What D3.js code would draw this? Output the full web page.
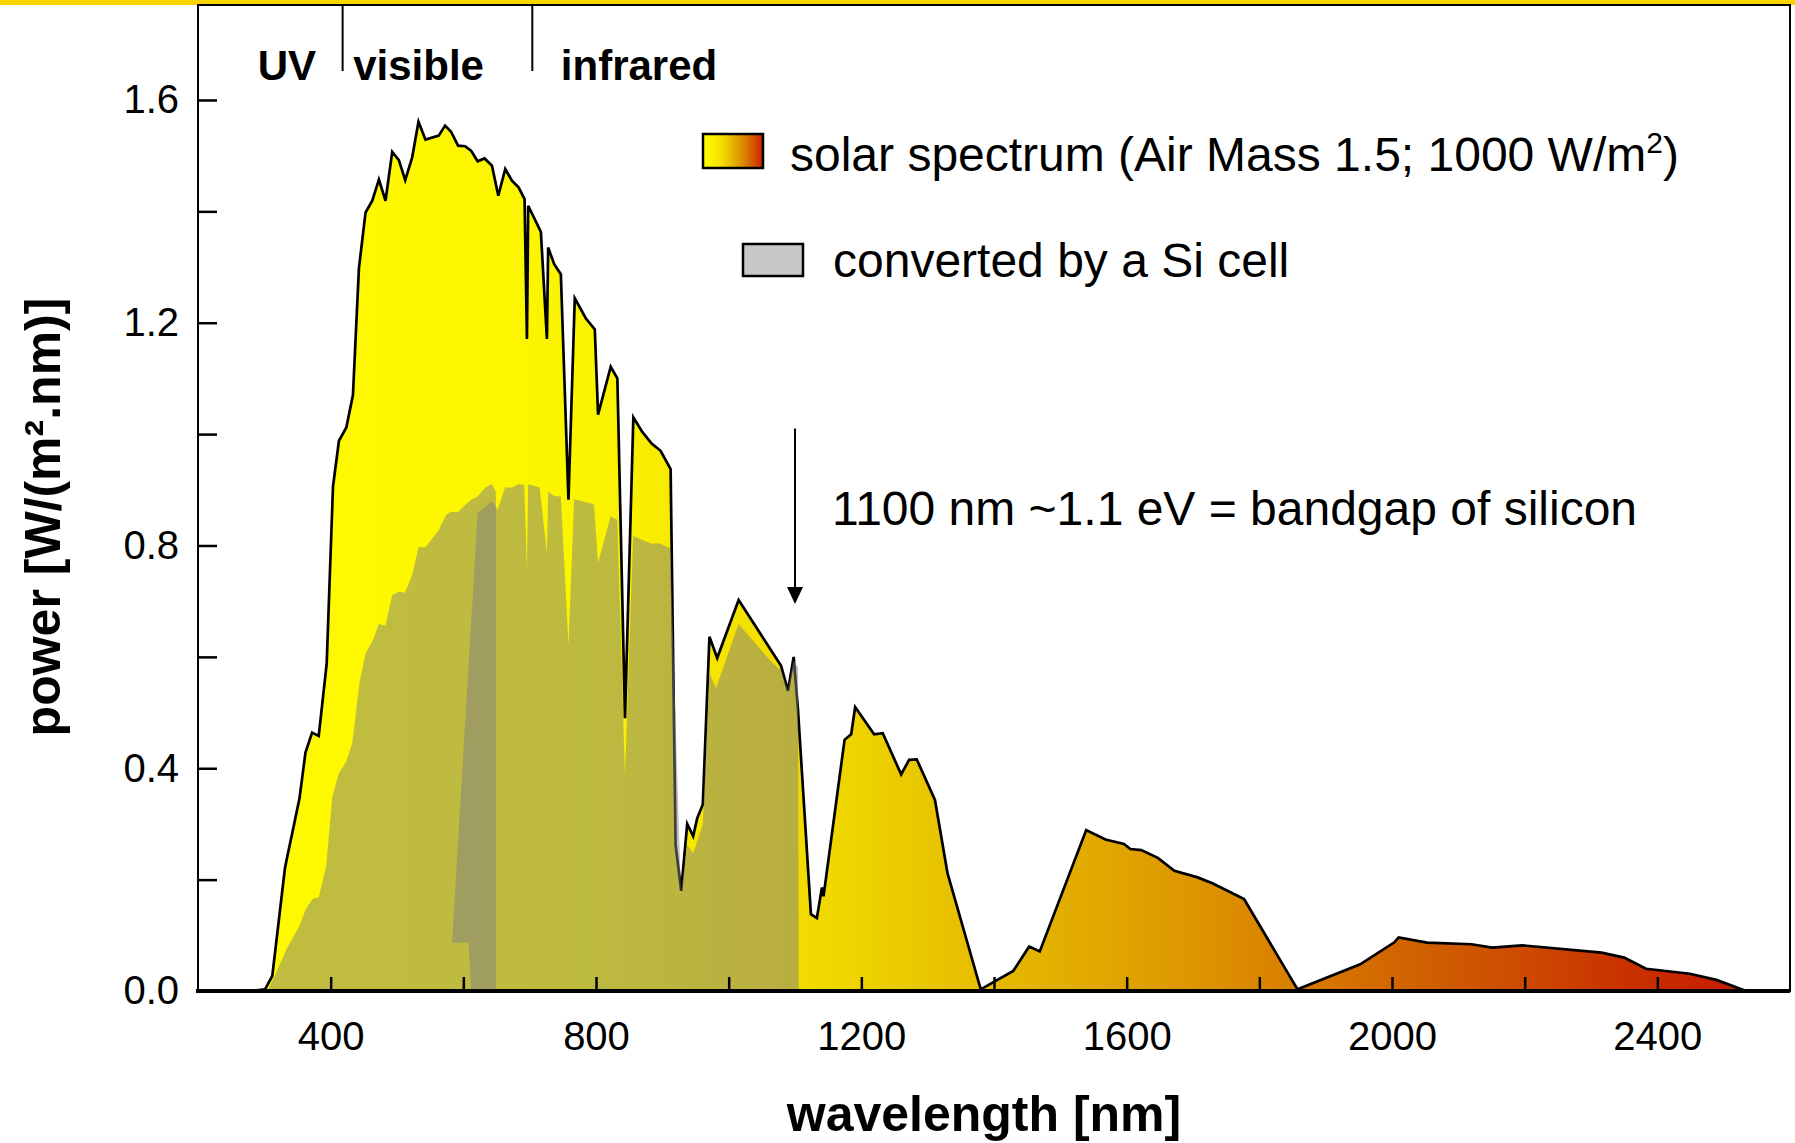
<!DOCTYPE html>
<html lang="en">
<head>
<meta charset="UTF-8">
<title>Solar spectrum vs. Si cell</title>
<script src="https://d3js.org/d3.v7.min.js"></script>
<style>
  body { margin: 0; background: white; }
  svg { display: block; font-family: "Liberation Sans", Arial, Helvetica, sans-serif; }
</style>
</head>
<body>
<div id="chart"></div>
<script>
// AM1.5 spectrum, [wavelength nm, power W/(m2.nm)]
const solar = [
  [280,0],[301,0.003],[312,0.027],[331,0.22],[334,0.238],[342,0.283],[353,0.346],[362,0.428],
  [372,0.464],[382,0.458],[394,0.588],[403.5,0.906],[412.5,0.988],[423.6,1.012],[433.6,1.07],
  [442.6,1.298],[452.6,1.398],[462.7,1.419],[472.7,1.457],[482.7,1.419],[492.8,1.507],[502.8,1.492],
  [512.4,1.456],[522.9,1.497],[532.4,1.561],[542.9,1.529],[562.9,1.536],[572.5,1.554],[581.5,1.543],
  [592.1,1.518],[602.6,1.517],[611.6,1.509],[621.6,1.49],[632.1,1.495],[643.2,1.482],[652.7,1.428],
  [663.2,1.476],[673.3,1.455],[683.3,1.443],[692.3,1.422],[695.9,1.171],[697.8,1.41],[716.9,1.363],
  [726,1.171],[727.9,1.335],[737,1.305],[747,1.287],[758.5,0.882],[768,1.244],[784.6,1.208],
  [798.2,1.188],[803.1,1.035],[822.2,1.121],[832.2,1.1],[843.7,0.49],[856.3,1.03],[869.8,1.004],
  [883.9,0.983],[897.4,0.97],[912.5,0.937],[920,0.262],[928.4,0.18],[937.5,0.3],[946.5,0.278],
  [952.5,0.31],[961,0.335],[971,0.636],[982.7,0.598],[1015,0.702],[1079,0.584],[1089.4,0.539],
  [1098,0.6],[1104.5,0.505],[1124,0.138],[1133,0.131],[1140.6,0.186],[1143,0.17],[1174.7,0.451],
  [1184.7,0.461],[1190.7,0.51],[1219.3,0.461],[1232.3,0.463],[1260,0.389],[1272,0.415],[1283.5,0.416],
  [1311,0.343],[1330,0.211],[1380,0.003],[1429,0.036],[1453,0.08],[1469,0.071],[1539,0.289],
  [1568,0.272],[1596,0.264],[1605.6,0.255],[1622,0.253],[1647,0.239],[1672,0.216],[1707,0.204],
  [1730,0.193],[1777,0.165],[1857.6,0.003],[1952,0.048],[2003,0.087],[2010,0.096],[2053,0.087],
  [2120,0.084],[2151,0.078],[2196,0.082],[2316,0.069],[2350,0.06],[2383,0.04],[2449,0.031],
  [2489,0.02],[2534,0]
];

// part converted by the Si cell, drawn as two overlapping pieces
const convertedA = [
  [304,0],[313,0.02],[333,0.074],[352,0.115],[363,0.148],[373.4,0.166],[382,0.168],[393.5,0.226],
  [402.5,0.349],[412.5,0.391],[423.6,0.412],[432.6,0.445],[443.6,0.555],[452.6,0.606],[463.7,0.63],
  [472.7,0.659],[482.7,0.656],[492.8,0.711],[502.8,0.717],[512,0.715],[523,0.748],[532.4,0.797],
  [543,0.797],[563,0.828],[574,0.855],[581.5,0.86],[592,0.86],[603,0.873],[613,0.883],[621.6,0.888],
  [633,0.904],[643,0.91],[649,0.897],[649,0]
];
const convertedB = [
  [611.6,0],[608,0.087],[583,0.087],[621.6,0.858],[643.2,0.88],[649.2,0.869],[651.7,0.864],
  [663,0.904],[673,0.904],[683,0.91],[691.8,0.909],[695.9,0.756],[697.8,0.91],[715,0.904],
  [726,0.786],[728,0.897],[737,0.889],[747,0.888],[758.5,0.621],[767,0.883],[797,0.874],
  [803,0.768],[822,0.852],[832,0.846],[843.7,0.385],[856,0.817],[870,0.81],[884,0.803],[895,0.804],
  [912,0.795],[928,0.175],[937.5,0.262],[946.5,0.247],[961,0.3],[971,0.57],[981,0.544],
  [1015,0.659],[1065,0.59],[1079,0.576],[1089,0.539],[1098,0.594],[1104.5,0.581],[1105.5,0]
];

const gradientStops = [
  [300,"#fffa00"],[800,"#fbf400"],[1000,"#f4e300"],[1150,"#f0d800"],[1300,"#e9c600"],
  [1450,"#e4b400"],[1600,"#e0a300"],[1750,"#dc8e00"],[1860,"#d87c00"],[2000,"#d26600"],
  [2200,"#cc4a00"],[2350,"#c93200"],[2530,"#c71a00"]
];

const xTicks = d3.range(400, 2401, 200);
const xLabels = [400, 800, 1200, 1600, 2000, 2400];
const yTicks = [0, 0.2, 0.4, 0.6, 0.8, 1.0, 1.2, 1.4, 1.6];
const yLabels = [0, 0.4, 0.8, 1.2, 1.6];

const bandEdges = [418, 704];
const bandNames = [["UV", 290], ["visible", 434], ["infrared", 747]];

const bandgapNm = 1100;
const arrowRange = [1.01, 0.695];

const W = 1795, H = 1143;
const svg = d3.select("#chart").append("svg").attr("width", W).attr("height", H);

const x = d3.scaleLinear().domain([200, 2600]).range([198, 1790]);
const y = d3.scaleLinear().domain([0, 1.77]).range([991, 5.3]);

// top strip
svg.append("rect").attr("x", 0).attr("y", 0).attr("width", W).attr("height", 5).attr("fill", "#fcd400");

const defs = svg.append("defs");
const grad = defs.append("linearGradient").attr("id", "solarFill")
  .attr("gradientUnits", "userSpaceOnUse")
  .attr("x1", x(300)).attr("x2", x(2530)).attr("y1", 0).attr("y2", 0);
grad.selectAll("stop").data(gradientStops).enter().append("stop")
  .attr("offset", d => (d[0] - 300) / (2530 - 300))
  .attr("stop-color", d => d[1]);

const legendGrad = defs.append("linearGradient").attr("id", "legendFill");
legendGrad.append("stop").attr("offset", 0).attr("stop-color", "#ffff00");
legendGrad.append("stop").attr("offset", 0.3).attr("stop-color", "#f4e000");
legendGrad.append("stop").attr("offset", 0.65).attr("stop-color", "#dc9000");
legendGrad.append("stop").attr("offset", 1).attr("stop-color", "#cc2000");

const area = d3.area().x(d => x(d[0])).y0(y(0)).y1(d => y(d[1]));
const line = d3.line().x(d => x(d[0])).y(d => y(d[1]));

svg.append("path").datum(solar).attr("d", area).attr("fill", "url(#solarFill)");
svg.append("path").datum(solar).attr("d", line)
  .attr("fill", "none").attr("stroke", "#000").attr("stroke-width", 2.7)
  .attr("stroke-linejoin", "miter").attr("stroke-miterlimit", 4);

[convertedA, convertedB].forEach(piece => {
  svg.append("path").datum(piece).attr("d", d => line(d) + "Z")
    .attr("fill", "rgba(128,128,128,0.5)");
});

// axes
const yAxis = d3.axisLeft(y).tickValues(yTicks).tickSize(-19).tickSizeOuter(0).tickPadding(19)
  .tickFormat(d => yLabels.some(v => Math.abs(v - d) < 1e-9) ? d3.format(".1f")(d) : "");
const gy = svg.append("g").attr("transform", `translate(${x(200)},0)`).call(yAxis);

const xAxis = d3.axisBottom(x).tickValues(xTicks).tickSize(-14).tickSizeOuter(0).tickPadding(31)
  .tickFormat(d => xLabels.includes(d) ? d : "");
const gx = svg.append("g").attr("transform", `translate(0,${y(0)})`).call(xAxis);

[gx, gy].forEach(g => {
  g.select(".domain").remove();
  g.selectAll(".tick line").attr("stroke", "#000").attr("stroke-width", 2.5);
  g.selectAll(".tick text").attr("fill", "#000").attr("font-size", 40)
    .attr("font-family", "'Liberation Sans', Arial, sans-serif");
});

// frame
svg.append("rect").attr("x", x(200)).attr("y", 5).attr("width", x(2600) - x(200)).attr("height", y(0) - 5)
  .attr("fill", "none").attr("stroke", "#000").attr("stroke-width", 2);
svg.append("line").attr("x1", x(200) - 2).attr("x2", x(2600)).attr("y1", y(0)).attr("y2", y(0))
  .attr("stroke", "#000").attr("stroke-width", 4);

// spectral band markers
svg.selectAll(".band").data(bandEdges).enter().append("line")
  .attr("x1", d => x(d)).attr("x2", d => x(d)).attr("y1", 5).attr("y2", 71)
  .attr("stroke", "#000").attr("stroke-width", 2);
svg.selectAll(".bandName").data(bandNames).enter().append("text")
  .attr("x", d => x(d[1])).attr("y", 80)
  .attr("font-size", 42).attr("font-weight", "bold").text(d => d[0]);

// bandgap arrow
const ax = x(bandgapNm), aTop = y(arrowRange[0]), aTip = y(arrowRange[1]);
svg.append("line").attr("x1", ax).attr("x2", ax).attr("y1", aTop).attr("y2", aTip - 14)
  .attr("stroke", "#000").attr("stroke-width", 2);
svg.append("path").attr("d", `M${ax - 8},${aTip - 17}L${ax + 8},${aTip - 17}L${ax},${aTip}Z`).attr("fill", "#000");
svg.append("text").attr("x", 832).attr("y", 525).attr("font-size", 48)
  .text("1100 nm ~1.1 eV = bandgap of silicon");

// legend
svg.append("rect").attr("x", 703).attr("y", 134).attr("width", 60).attr("height", 34)
  .attr("fill", "url(#legendFill)").attr("stroke", "#000").attr("stroke-width", 2.5);
const leg1 = svg.append("text").attr("x", 790).attr("y", 171).attr("font-size", 48)
  .text("solar spectrum (Air Mass 1.5; 1000 W/m");
leg1.append("tspan").attr("font-size", 30).attr("dy", -18).text("2");
leg1.append("tspan").attr("dy", 18).text(")");
svg.append("rect").attr("x", 743).attr("y", 244).attr("width", 60).attr("height", 32)
  .attr("fill", "#c8c8c8").attr("stroke", "#000").attr("stroke-width", 2.5);
svg.append("text").attr("x", 833).attr("y", 277).attr("font-size", 48)
  .text("converted by a Si cell");

// axis titles
svg.append("text").attr("x", (x(200) + x(2600)) / 2 - 10).attr("y", 1131)
  .attr("text-anchor", "middle").attr("font-size", 50).attr("font-weight", "bold")
  .text("wavelength [nm]");
svg.append("text").attr("transform", "translate(60,517) rotate(-90)")
  .attr("text-anchor", "middle").attr("font-size", 50).attr("font-weight", "bold")
  .text("power [W/(m².nm)]");
</script>
</body>
</html>
